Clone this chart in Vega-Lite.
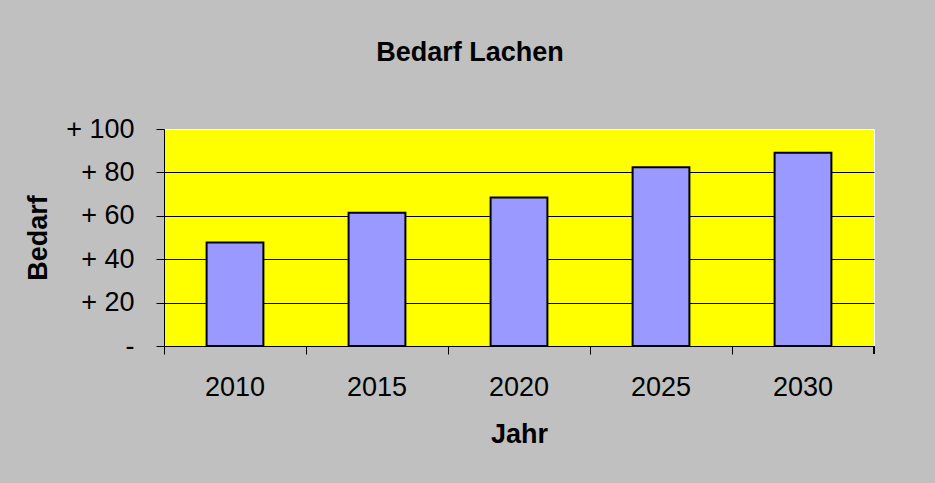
{
  "$schema": "https://vega.github.io/schema/vega-lite/v6.json",
  "width": 710,
  "height": 217,
  "autosize": {"type": "none"},
  "padding": {"left": 164, "top": 129, "right": 61, "bottom": 137},
  "background": "#c0c0c0",
  "config": {
    "font": "Liberation Sans",
    "view": {"fill": "#ffff00", "stroke": "white", "strokeWidth": 1}
  },
  "title": {
    "text": "Bedarf Lachen",
    "font": "Liberation Sans",
    "fontSize": 27,
    "fontWeight": "bold",
    "color": "black",
    "anchor": "middle",
    "frame": "group",
    "dx": -49,
    "offset": 48
  },
  "data": {
    "values": [
      {"Jahr": "2010", "Bedarf": 47.7},
      {"Jahr": "2015", "Bedarf": 61.4},
      {"Jahr": "2020", "Bedarf": 68.4},
      {"Jahr": "2025", "Bedarf": 82.4},
      {"Jahr": "2030", "Bedarf": 89.1}
    ]
  },
  "layer": [
    {
      "mark": {"type": "bar", "fill": "#9999ff", "stroke": "black", "strokeWidth": 2, "width": {"band": 0.4}},
      "encoding": {
        "x": {
          "field": "Jahr",
          "type": "ordinal",
          "scale": {"paddingInner": 0, "paddingOuter": 0},
          "axis": {
            "title": "Jahr",
            "titleFontSize": 27,
            "titleFontWeight": "bold",
            "titleColor": "black",
            "titlePadding": 21,
            "labelAngle": 0,
            "labelFontSize": 27,
            "labelColor": "black",
            "labelPadding": 20,
            "bandPosition": 0,
            "tickSize": 8,
            "tickColor": "black",
            "domainColor": "black",
            "grid": false
          }
        },
        "y": {
          "field": "Bedarf",
          "type": "quantitative",
          "scale": {"domain": [0, 100], "nice": false},
          "axis": {
            "title": "Bedarf",
            "titleFontSize": 27,
            "titleFontWeight": "bold",
            "titleColor": "black",
            "titlePadding": 13,
            "values": [0, 20, 40, 60, 80, 100],
            "labelExpr": "datum.value == 0 ? '-\u00a0' : '+ ' + datum.label",
            "labelFontSize": 27,
            "labelColor": "black",
            "labelPadding": 22,
            "tickSize": 8,
            "tickColor": "black",
            "domainColor": "black",
            "grid": true,
            "gridColor": {"condition": {"test": "datum.value == 0 || datum.value == 100", "value": "transparent"}, "value": "black"},
            "gridOpacity": 1
          }
        }
      }
    },
    {
      "mark": {"type": "rule", "color": "black", "strokeWidth": 1, "clip": false},
      "encoding": {
        "x": {"datum": "2030", "bandPosition": 1},
        "y": {"datum": 0},
        "y2": {"datum": -3.7}
      }
    }
  ]
}
